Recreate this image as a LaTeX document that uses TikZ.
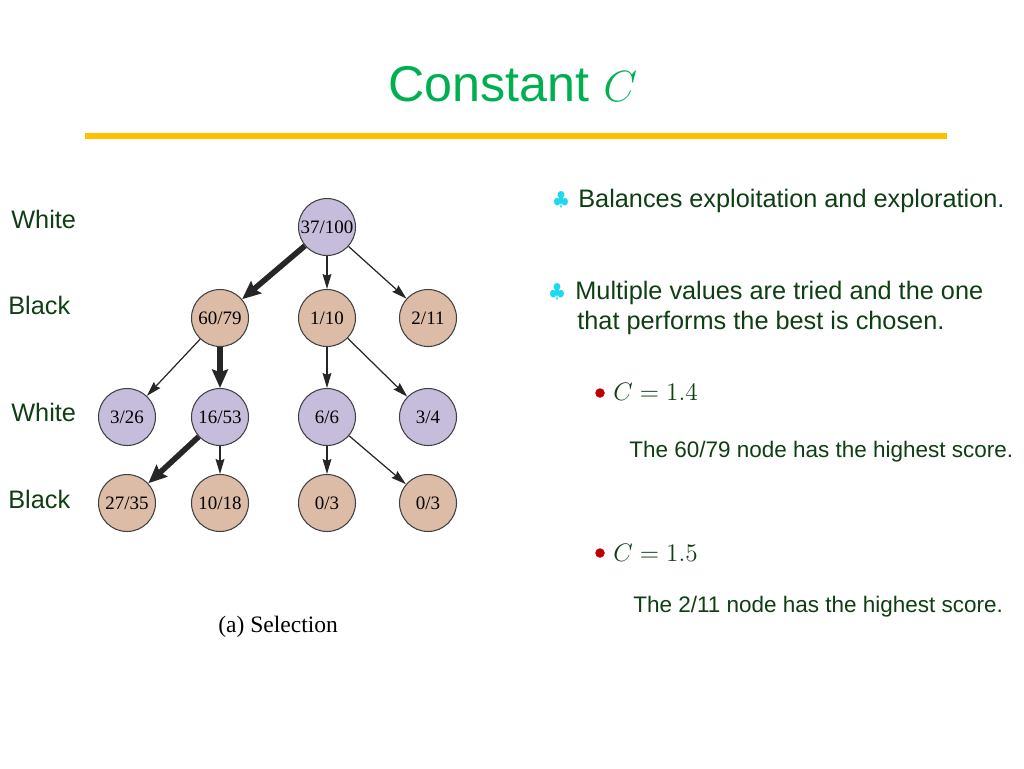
\documentclass[tikz,border=0pt]{standalone}
\usepackage{fontspec}
\setmainfont{Liberation Sans}
\newfontfamily\treefont{Liberation Serif}
\usepackage{tikz}
\usetikzlibrary{
    arrows.meta
}

\definecolor{titlegreen}{HTML}{00B050}
\definecolor{rulegold}{HTML}{FFC000}
\definecolor{textgreen}{HTML}{0E3F12}
\definecolor{clubcyan}{HTML}{1FD8F0}
\definecolor{dotred}{HTML}{C00000}
\definecolor{nodelilac}{HTML}{C5BDDB}
\definecolor{nodetan}{HTML}{DCBBA7}

\begin{document}
\begin{tikzpicture}[x=0.02cm,y=-0.02cm,
    whitenode/.style={circle,draw=black!75,fill=nodelilac,line width=0.6pt,
        minimum size=1.14cm,inner sep=0pt,font=\treefont\fontsize{10.8}{13}\selectfont},
    blacknode/.style={whitenode,fill=nodetan},
    move/.style={draw=black!85,line width=0.7pt,-{Stealth[length=8.5pt,width=5pt,inset=1pt]}},
    best/.style={draw=black!85,line width=3.2pt,-{Stealth[length=10.5pt,width=9pt,inset=1.5pt]}},
    side/.style={anchor=base west,inner sep=0pt,text=textgreen,font=\fontsize{14.4}{17}\selectfont},
    point/.style={side},
    note/.style={side,font=\fontsize{12.8}{15}\selectfont},
    value/.style={side,font=\fontsize{15}{18}\selectfont},
    club/.style={text=clubcyan,inner sep=0pt,font=\fontsize{11}{12}\selectfont},
    dot/.style={circle,fill=dotred,inner sep=0pt,minimum size=0.19cm}
]
\useasboundingbox (0,0) rectangle (1024,768);

% title
\node[anchor=base west,inner sep=0pt,text=titlegreen,font=\fontsize{28.6}{32}\selectfont]
    (title) at (388,101) {Constant $C$};
\draw[rulegold,line width=3.4pt] (85,136) -- (947,136);

% players
\node[side] (w1) at (11,228) {White};
\node[side] (b1) at (8,314) {Black};
\node[side] (w2) at (11,421) {White};
\node[side] (b2) at (8,508) {Black};

% tree
\node[whitenode] (n1) at (327,227) {37/100};

\node[blacknode] (n2) at (220,318) {60/79};
\node[blacknode] (n3) at (327,318) {1/10};
\node[blacknode] (n4) at (428,318) {2/11};

\node[whitenode] (n5) at (127,417) {3/26};
\node[whitenode] (n6) at (220,417) {16/53};
\node[whitenode] (n7) at (327,417) {6/6};
\node[whitenode] (n8) at (428,417) {3/4};

\node[blacknode] (n9) at (127,503) {27/35};
\node[blacknode] (n10) at (220,503) {10/18};
\node[blacknode] (n11) at (327,503) {0/3};
\node[blacknode] (n12) at (428,503) {0/3};

\draw[best] (n1) -- (n2);
\draw[move] (n1) -- (n3);
\draw[move] (n1) -- (n4);
\draw[move] (n2) -- (n5);
\draw[best] (n2) -- (n6);
\draw[move] (n3) -- (n7);
\draw[move] (n3) -- (n8);
\draw[best] (n6) -- (n9);
\draw[move] (n6) -- (n10);
\draw[move] (n7) -- (n11);
\draw[move] (n7) -- (n12);

\node[anchor=base west,inner sep=0pt,font=\treefont\fontsize{13.4}{15}\selectfont]
    (cap) at (218,632) {(a) Selection};

% bullets
\node[club] (c1) at (561,200) {$\clubsuit$};
\node[point] (p1) at (578,207) {Balances exploitation and exploration.};

\node[club] (c2) at (557,292) {$\clubsuit$};
\node[point] (p2) at (575,299) {Multiple values are tried and the one};
\node[point] (p3) at (577,329) {that performs the best is chosen.};

\node[dot] (d1) at (600,393) {};
\node[value] (v1) at (613,400) {$C=1.4$};
\node[note] (s1) at (629,457) {The 60/79 node has the highest score.};

\node[dot] (d2) at (600,553) {};
\node[value] (v2) at (613,561) {$C=1.5$};
\node[note] (s2) at (633,612) {The 2/11 node has the highest score.};

\end{tikzpicture}
\end{document}
